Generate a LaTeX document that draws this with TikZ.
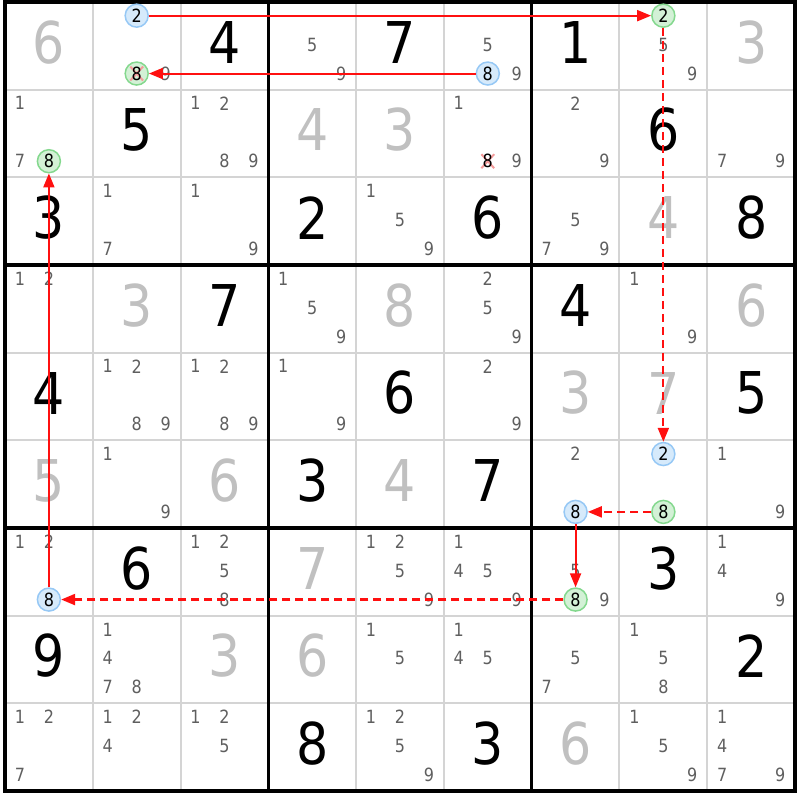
\documentclass[tikz,border=0pt]{standalone}
\usepackage{fontspec}
\setmainfont{DejaVu Sans}[FakeStretch=0.88]
\usetikzlibrary{arrows.meta}

\definecolor{candgray}{HTML}{5F5F5F}
\definecolor{solvedgray}{HTML}{C0C0C0}
\definecolor{gridgray}{HTML}{D4D4D4}
\definecolor{linkred}{HTML}{FF1010}
\definecolor{onfill}{HTML}{D6EAFB}
\definecolor{online}{HTML}{96C8F5}
\definecolor{offfill}{HTML}{D3F1D6}
\definecolor{offline}{HTML}{84D88E}
\definecolor{xpink}{HTML}{F49A9A}

\tikzset{
  given/.style={font=\fontsize{28.8}{30}\selectfont, text=black, inner sep=0pt},
  solved/.style={given, text=solvedgray},
  cand/.style={font=\fontsize{9.1}{10}\selectfont, text=candgray, inner sep=0pt},
  oncand/.style={cand, circle, text=black, draw=online, fill=onfill, line width=0.75pt, minimum size=11.5pt},
  offcand/.style={oncand, draw=offline, fill=offfill},
  struck/.style={path picture={
      \draw[xpink, line width=1pt]
        ([shift={(-3.2pt,-3.5pt)}]path picture bounding box.center) -- ([shift={(3.2pt,3.5pt)}]path picture bounding box.center)
        ([shift={(-3.2pt,3.5pt)}]path picture bounding box.center) -- ([shift={(3.2pt,-3.5pt)}]path picture bounding box.center);}},
  link/.style={draw=linkred, line width=1pt, -{Triangle[length=7pt, width=5.5pt]}},
  weaklink/.style={link, line width=1.1pt, dash pattern=on 4pt off 2.5pt}
}

\begin{document}
\begin{tikzpicture}[x=43.89pt, y=-43.835pt]
    \useasboundingbox (-0.05696,-0.02281) rectangle (9.0567,9.1023);

    % grid
    \foreach \i in {1,2,4,5,7,8} {
        \draw [gridgray, line width=1pt] (\i,0) -- (\i,9);
        \draw [gridgray, line width=1pt] (0,\i) -- (9,\i);
    }
    \foreach \i in {3,6} {
        \draw [line width=1.75pt] (\i,0) -- (\i,9);
        \draw [line width=1.75pt] (0,\i) -- (9,\i);
    }
    \draw [line width=2pt] (0,0) rectangle (9,9);

    % givens
    \foreach \r/\c/\d in {0/2/4, 0/4/7, 0/6/1, 1/1/5, 1/7/6, 2/0/3, 2/3/2, 2/5/6, 2/8/8,
        3/2/7, 3/6/4, 4/0/4, 4/4/6, 4/8/5, 5/3/3, 5/5/7, 6/1/6, 6/7/3,
        7/0/9, 7/8/2, 8/3/8, 8/5/3}
        \node [given] (g\r\c) at (\c+.5,\r+.46) {\d};

    % solved cells
    \foreach \r/\c/\d in {0/0/6, 0/8/3, 1/3/4, 1/4/3, 2/7/4, 3/1/3, 3/4/8, 3/8/6,
        4/6/3, 4/7/7, 5/0/5, 5/2/6, 5/4/4, 6/3/7, 7/2/3, 7/3/6, 8/6/6}
        \node [solved] (s\r\c) at (\c+.5,\r+.46) {\d};

    % candidates
    \foreach \r/\c/\ks in {0/1/{9}, 0/3/{5,9}, 0/5/{5,9}, 0/7/{5,9},
        1/0/{1,7}, 1/2/{1,2,8,9}, 1/5/{1,9}, 1/6/{2,9}, 1/8/{7,9},
        2/1/{1,7}, 2/2/{1,9}, 2/4/{1,5,9}, 2/6/{5,7,9},
        3/0/{1,2}, 3/3/{1,5,9}, 3/5/{2,5,9}, 3/7/{1,9},
        4/1/{1,2,8,9}, 4/2/{1,2,8,9}, 4/3/{1,9}, 4/5/{2,9},
        5/1/{1,9}, 5/6/{2}, 5/8/{1,9},
        6/0/{1,2}, 6/2/{1,2,5,8}, 6/4/{1,2,5,9}, 6/5/{1,4,5,9}, 6/6/{5,9}, 6/8/{1,4,9},
        7/1/{1,4,7,8}, 7/4/{1,5}, 7/5/{1,4,5}, 7/6/{5,7}, 7/7/{1,5,8},
        8/0/{1,2,7}, 8/1/{1,2,4}, 8/2/{1,2,5}, 8/4/{1,2,5,9}, 8/7/{1,5,9}, 8/8/{1,4,7,9}} {
        \foreach \k in \ks {
            \pgfmathtruncatemacro\dx{mod(\k-1,3)-1}
            \pgfmathtruncatemacro\dy{int((\k-1)/3)-1}
            \node [cand] (c\r\c\k) at ({\c+.5+.33*\dx},{\r+.486+.33*\dy}) {\k};
        }
    }

    % chain candidates
    \node [oncand] (c012) at (1.5,0.156) {2};
    \node [offcand, struck] (c018) at (1.5,0.816) {8};
    \node [oncand] (c058) at (5.5,0.816) {8};
    \node [offcand] (c072) at (7.5,0.156) {2};
    \node [offcand] (c108) at (0.5,1.816) {8};
    \node [cand, circle, minimum size=10pt, fill=white, text=black, struck] (c158) at (5.5,1.816) {8};
    \node [oncand] (c572) at (7.5,5.156) {2};
    \node [oncand] (c568) at (6.5,5.816) {8};
    \node [offcand] (c578) at (7.5,5.816) {8};
    \node [oncand] (c608) at (0.5,6.816) {8};
    \node [offcand] (c668) at (6.5,6.816) {8};

    % links
    \draw [link] (c012) -- (c072);
    \draw [link] (c058) -- (c018);
    \draw [weaklink] (c072) -- (c572);
    \draw [weaklink] (c578) -- (c568);
    \draw [link] (c568) -- (c668);
    \draw [weaklink] (c668) -- (c608);
    \draw [link] (c608) -- (c108);

\end{tikzpicture}
\end{document}
